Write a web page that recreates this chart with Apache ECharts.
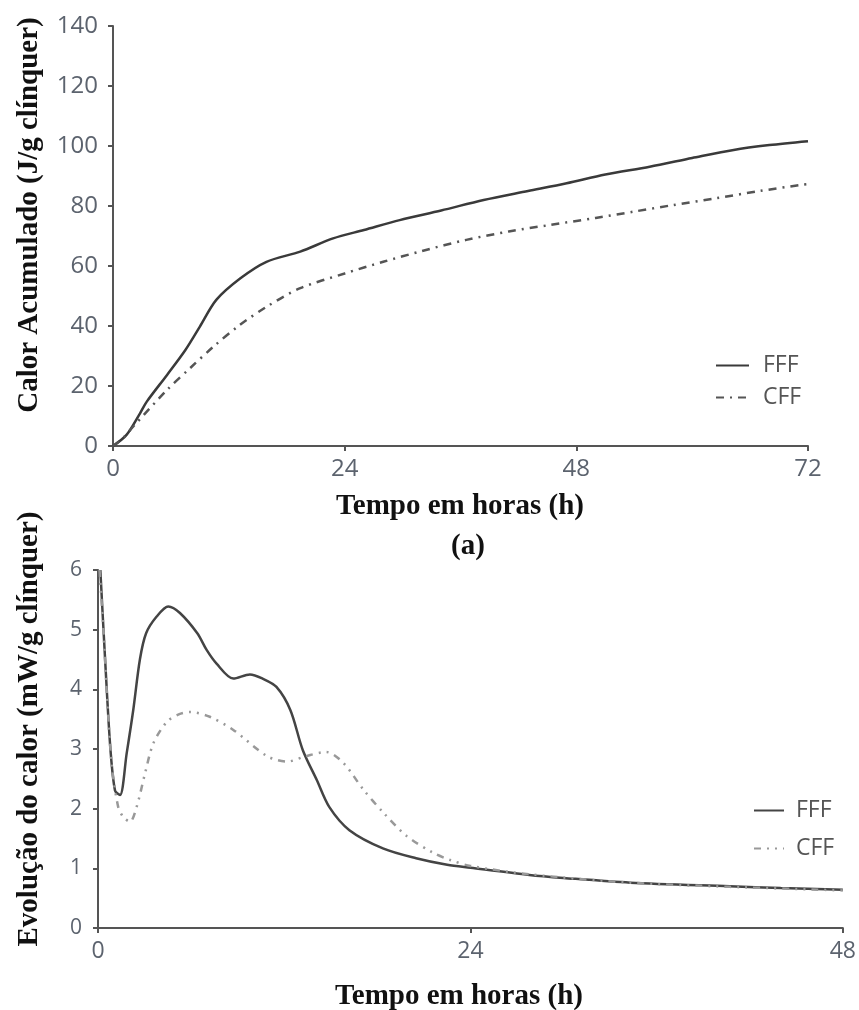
<!DOCTYPE html>
<html><head><meta charset="utf-8">
<script src="https://cdn.jsdelivr.net/npm/echarts@6/dist/echarts.min.js"></script>
<style>html,body{margin:0;padding:0;background:#fff}#c{width:859px;height:1010px}</style>
</head><body><div id="c"></div>
<script>
// ---- Data: (a) Calor acumulado ----
const topFFFHours = [0, 1.4, 2.8, 3.5, 5.6, 7.5, 9.0, 10.7, 13.2, 15.9, 19.4, 22.8, 26, 29.7, 34, 38.4, 43, 47, 51, 55.6, 60, 64.3, 68, 72];
const topFFFValues = [0, 3.7, 10.9, 14.8, 23.7, 32, 39.8, 48.7, 55.9, 61.4, 64.8, 69.2, 72, 75.3, 78.5, 82, 85, 87.6, 90.5, 93.1, 96, 98.7, 100.3, 101.6];
const topCFFHours = [0, 1, 2.1, 5.6, 8, 10.4, 13, 15.9, 19.4, 24, 28, 32, 36.6, 41, 45.3, 50, 53.9, 58, 62.5, 67, 71.2, 72];
const topCFFValues = [0, 2.5, 6.5, 18.7, 26, 33.1, 40, 46.4, 52.6, 57.5, 61.4, 65, 68.7, 71.5, 73.7, 76, 78.1, 80.3, 82.6, 85, 87, 87.3];

// ---- Data: Evolução do calor ----
const botFFFHours = [0.15, 0.5, 0.8, 1.1, 1.42, 1.85, 2.27, 2.7, 3.1, 3.78, 4.53, 5.28, 6.4, 7.0, 7.64, 8.72, 9.79, 10.6, 11.5, 12.4, 13.2, 14.1, 14.9, 16.2, 18.4, 20.5, 22.5, 24, 27.8, 30, 34.3, 40.7, 44, 48];
const botFFFValues = [6.0, 4.3, 3.0, 2.3, 2.23, 2.93, 3.65, 4.5, 4.94, 5.22, 5.39, 5.28, 4.94, 4.66, 4.43, 4.18, 4.25, 4.18, 4.04, 3.65, 2.98, 2.48, 2.03, 1.64, 1.33, 1.17, 1.06, 1.01, 0.89, 0.84, 0.76, 0.70, 0.67, 0.64];
const botCFFHours = [0.1, 0.35, 0.6, 0.9, 1.3, 1.63, 2.06, 2.49, 3.03, 3.56, 4.42, 5.2, 5.93, 7.2, 8.72, 10.9, 12.2, 13.4, 14.7, 15.8, 17.1, 18.4, 19.9, 21.6, 22.7, 24, 27.8, 34.3, 40.7, 48];
const botCFFValues = [6.0, 5.0, 3.8, 2.7, 2.03, 1.86, 1.78, 2.03, 2.59, 3.09, 3.45, 3.58, 3.62, 3.54, 3.32, 2.88, 2.79, 2.88, 2.95, 2.77, 2.32, 1.93, 1.54, 1.26, 1.14, 1.04, 0.9, 0.76, 0.69, 0.63];

const seriesNames = ['FFF', 'CFF'];
const botSeriesNames = ['FFF ', 'CFF '];

const pair = (xs, ys) => xs.map((x, i) => [x, ys[i]]);

const labelColor = '#5c636e';
const labelFamily = 'Open Sans';
const axisLine = {show: true, lineStyle: {color: '#555', width: 2}};
const axisTick = {show: true, length: 5, lineStyle: {color: '#555', width: 2}};
const titleFont = 'bold 29px "Liberation Serif"';

const chart = echarts.init(document.getElementById('c'));
chart.setOption({
  animation: false,
  backgroundColor: '#fff',
  grid: [
    {left: 113, top: 26, width: 695, height: 420},
    {left: 98, top: 570, width: 745, height: 358}
  ],
  xAxis: [
    {gridIndex: 0, type: 'value', min: 0, max: 72, interval: 24, axisLine, axisTick, splitLine: {show: false},
     axisLabel: {margin: 11, color: labelColor, fontFamily: labelFamily, fontSize: 24}},
    {gridIndex: 1, type: 'value', min: 0, max: 48, interval: 24, axisLine, axisTick, splitLine: {show: false},
     axisLabel: {margin: 12, color: labelColor, fontFamily: labelFamily, fontSize: 23}}
  ],
  yAxis: [
    {gridIndex: 0, type: 'value', min: 0, max: 140, interval: 20, axisLine, axisTick, splitLine: {show: false},
     axisLabel: {margin: 15, color: labelColor, fontFamily: labelFamily, fontSize: 24}},
    {gridIndex: 1, type: 'value', min: 0, max: 6, interval: 1, axisLine, axisTick, splitLine: {show: false},
     axisLabel: {margin: 16, color: labelColor, fontFamily: labelFamily, fontSize: 21}}
  ],
  legend: [
    {left: 715, top: 354, padding: 0, orient: 'vertical', itemWidth: 33, itemHeight: 14, itemGap: 9,
     data: seriesNames, itemStyle: {opacity: 0},
     textStyle: {color: '#555', fontFamily: labelFamily, fontSize: 23, padding: [0, 0, 0, 9]}},
    {left: 753, top: 799, padding: 0, orient: 'vertical', itemWidth: 30, itemHeight: 14, itemGap: 15,
     data: botSeriesNames, itemStyle: {opacity: 0},
     textStyle: {color: '#555', fontFamily: labelFamily, fontSize: 23, padding: [0, 0, 0, 7]}}
  ],
  graphic: [
    {type: 'text', x: 30, y: 215, rotation: Math.PI / 2, style: {text: 'Calor Acumulado (J/g clínquer)', font: titleFont, fill: '#111', textAlign: 'center', textVerticalAlign: 'middle'}},
    {type: 'text', x: 460, y: 507, style: {text: 'Tempo em horas (h)', font: titleFont, fill: '#111', textAlign: 'center', textVerticalAlign: 'middle'}},
    {type: 'text', x: 468, y: 547, style: {text: '(a)', font: titleFont, fill: '#111', textAlign: 'center', textVerticalAlign: 'middle'}},
    {type: 'text', x: 30, y: 729, rotation: Math.PI / 2, style: {text: 'Evolução do calor (mW/g clínquer)', font: titleFont, fill: '#111', textAlign: 'center', textVerticalAlign: 'middle'}},
    {type: 'text', x: 459, y: 997, style: {text: 'Tempo em horas (h)', font: titleFont, fill: '#111', textAlign: 'center', textVerticalAlign: 'middle'}}
  ],
  series: [
    {name: seriesNames[0], type: 'line', xAxisIndex: 0, yAxisIndex: 0, data: pair(topFFFHours, topFFFValues), smooth: 0.3,
     symbol: 'none', lineStyle: {color: '#3a3a3a', width: 2.5}, itemStyle: {color: '#3a3a3a'}},
    {name: seriesNames[1], type: 'line', xAxisIndex: 0, yAxisIndex: 0, data: pair(topCFFHours, topCFFValues), smooth: 0.3,
     symbol: 'none', lineStyle: {color: '#555', width: 2.5, type: [8, 6, 2, 6]}, itemStyle: {color: '#555'}},
    {name: botSeriesNames[0], type: 'line', xAxisIndex: 1, yAxisIndex: 1, data: pair(botFFFHours, botFFFValues), smooth: 0.3,
     symbol: 'none', lineStyle: {color: '#444', width: 2.5}, itemStyle: {color: '#444'}},
    {name: botSeriesNames[1], type: 'line', xAxisIndex: 1, yAxisIndex: 1, data: pair(botCFFHours, botCFFValues), smooth: 0.3,
     symbol: 'none', lineStyle: {color: '#999', width: 2.5, type: [7, 6, 2, 6, 2, 6]}, itemStyle: {color: '#999'}}
  ]
});
</script></body></html>
